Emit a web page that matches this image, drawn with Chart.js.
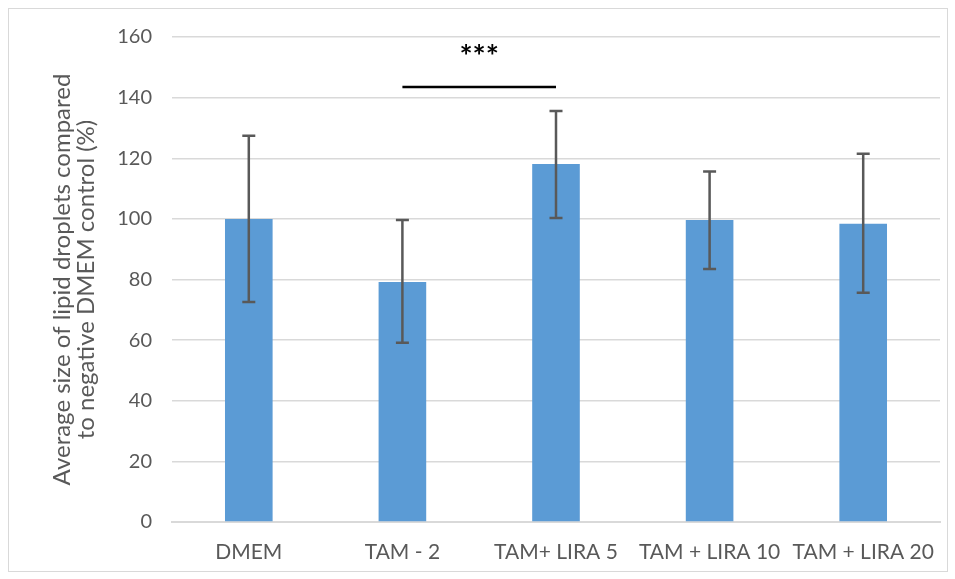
<!DOCTYPE html>
<html lang="en">
<head>
  <meta charset="UTF-8" />
  <title>Lipid droplet size</title>
  <script src="https://cdn.jsdelivr.net/npm/chart.js"></script>
  <style>
    html, body { margin: 0; padding: 0; background: #fff; }
    .wrap { position: relative; width: 955px; height: 579px; }
    .frame { position: absolute; left: 8px; top: 8px; width: 938px; height: 562px; border: 1px solid #d9d9d9; pointer-events: none; }
  </style>
</head>
<body>
  <div class="wrap">
    <canvas id="chart" width="955" height="579"></canvas>
    <div class="frame"></div>
  </div>
  <script>
    const categorias = ["DMEM", "TAM - 2", "TAM+ LIRA 5", "TAM + LIRA 10", "TAM + LIRA 20"];
    const medias = [100, 79.2, 118.1, 99.6, 98.4];
    const erroSuperior = [127.4, 99.6, 135.6, 115.6, 121.5];
    const erroInferior = [72.6, 59.1, 100.3, 83.5, 75.6];
    const tituloEixoY = ["Average size of lipid droplets compared", "to negative DMEM control (%)"];
    const significancia = { de: 1, ate: 2, nivel: 143.5, rotulo: "***", nivelRotulo: 155.5 };

    const fonte = "Lato, 'DejaVu Sans', sans-serif";

    // barras de erro e marca de significância
    const extras = {
      id: 'extras',
      afterDatasetsDraw(chart) {
        const ctx = chart.ctx;
        const x = chart.scales.x, y = chart.scales.y;
        ctx.save();
        ctx.strokeStyle = '#595959';
        ctx.lineWidth = 2.5;
        medias.forEach((m, i) => {
          const cx = x.getPixelForValue(i);
          const yt = y.getPixelForValue(erroSuperior[i]);
          const yb = y.getPixelForValue(erroInferior[i]);
          ctx.beginPath();
          ctx.moveTo(cx, yt); ctx.lineTo(cx, yb);
          ctx.moveTo(cx - 6.5, yt); ctx.lineTo(cx + 6.5, yt);
          ctx.moveTo(cx - 6.5, yb); ctx.lineTo(cx + 6.5, yb);
          ctx.stroke();
        });
        const x1 = x.getPixelForValue(significancia.de);
        const x2 = x.getPixelForValue(significancia.ate);
        const ys = y.getPixelForValue(significancia.nivel);
        ctx.strokeStyle = '#000';
        ctx.lineWidth = 2.5;
        ctx.beginPath();
        ctx.moveTo(x1, ys); ctx.lineTo(x2, ys);
        ctx.stroke();
        ctx.fillStyle = '#000';
        ctx.font = "bold 31px " + fonte;
        ctx.textAlign = 'center';
        ctx.textBaseline = 'middle';
        ctx.fillText(significancia.rotulo, (x1 + x2) / 2, y.getPixelForValue(significancia.nivelRotulo) + 6);
        ctx.restore();
      }
    };

    new Chart(document.getElementById('chart'), {
      type: 'bar',
      data: {
        labels: categorias,
        datasets: [{
          data: medias,
          backgroundColor: '#5b9bd5',
          categoryPercentage: 1,
          barPercentage: 0.31
        }]
      },
      options: {
        responsive: false,
        animation: false,
        layout: { padding: { top: 37, right: 15, bottom: 0, left: 50 } },
        plugins: { legend: { display: false }, tooltip: { enabled: false } },
        scales: {
          x: {
            grid: { display: false, drawTicks: false },
            border: { color: '#d9d9d9', width: 2 },
            ticks: { color: '#595959', font: { family: fonte, size: 21 }, padding: 18 },
            afterFit(scale) { scale.height = 57; }
          },
          y: {
            min: 0, max: 160,
            ticks: { stepSize: 20, color: '#595959', font: { family: fonte, size: 20 }, padding: 20 },
            grid: { color: '#d9d9d9', lineWidth: 1.5, drawTicks: false },
            border: { display: false },
            title: {
              display: true,
              text: tituloEixoY,
              color: '#595959',
              font: { family: fonte, size: 24, lineHeight: 1.0 },
              padding: { top: 0, bottom: 6 }
            },
            afterFit(scale) { scale.width = 122; }
          }
        }
      },
      plugins: [extras]
    });
  </script>
</body>
</html>
